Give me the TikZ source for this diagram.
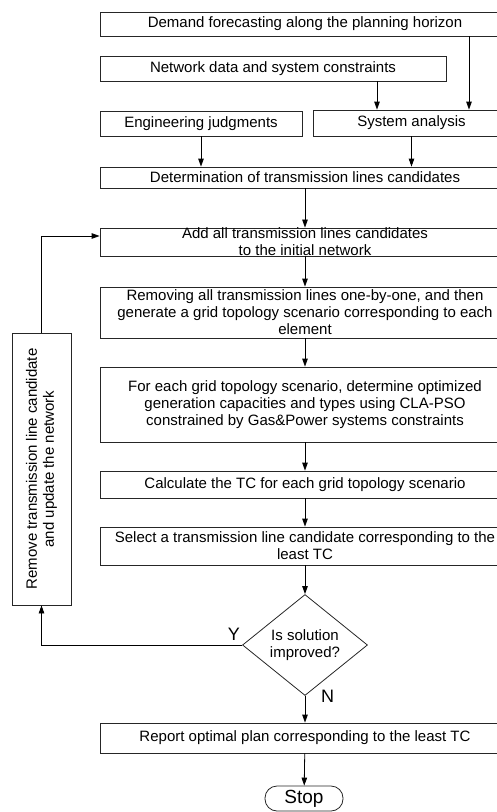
\documentclass[tikz,border=0pt]{standalone}
\usepackage{fontspec}
\setmainfont{Liberation Sans}
\usetikzlibrary{arrows.meta,shapes.geometric,positioning}
\tikzset{
  flowbox/.style  = {draw=black!85,line width=0.8pt,inner sep=0pt,align=center,
                     font=\fontsize{15}{17}\selectfont},
  decision/.style = {flowbox,diamond,minimum width=125,minimum height=96},
  terminal/.style = {flowbox,rounded corners=12pt,minimum width=78,minimum height=25,
                     font=\fontsize{19}{21}\selectfont},
  flowarr/.style  = {-{Triangle[length=8pt,width=5.5pt]},line width=0.8pt},
  ynlabel/.style  = {inner sep=0pt,font=\fontsize{18}{20}\selectfont}
}

\begin{document}
\begin{tikzpicture}[x=1pt,y=-1pt]
  \useasboundingbox (0,0) rectangle (496,812);
  % input blocks
  \node[flowbox,minimum width=410,minimum height=24] (demand) at (305,24)
    {Demand forecasting along the planning horizon};
  \node[flowbox,minimum width=346,minimum height=25] (netdata) at (273,68.5)
    {Network data and system constraints};
  \node[flowbox,minimum width=202,minimum height=25] (engj) at (201,123.5)
    {Engineering judgments};
  \node[flowbox,minimum width=197,minimum height=26] (sysan) at (411.5,123)
    {System analysis};
  \node[flowbox,minimum width=410,minimum height=21] (determ) at (305,177.5)
    {Determination of transmission lines candidates};
  % main loop
  \node[flowbox,minimum width=410,minimum height=28] (addall) at (305,242)
    {Add all transmission lines candidates\\to the initial network};
  \node[flowbox,minimum width=410,minimum height=51] (removing) at (305,312.5)
    {Removing all transmission lines one-by-one, and then\\generate a grid topology scenario corresponding to each\\element};
  \node[flowbox,minimum width=410,minimum height=75] (foreach) at (305,404.5)
    {For each grid topology scenario, determine optimized\\generation capacities and types using CLA-PSO\\constrained by Gas\&Power systems constraints};
  \node[flowbox,minimum width=410,minimum height=27] (calc) at (305,484.5)
    {Calculate the TC for each grid topology scenario};
  \node[flowbox,minimum width=410,minimum height=38] (select) at (305,546)
    {Select a transmission line candidate corresponding to the\\least TC};
  \node[decision] (improved) at (305,645) {Is solution\\improved?};
  \node[flowbox,minimum width=410,minimum height=30] (report) at (305,738)
    {Report optimal plan corresponding to the least TC};
  \node[terminal] (stop) at (304,798.5) {Stop};
  \node[flowbox,minimum width=272,minimum height=59,rotate=90] (update) at (41.5,469)
    {Remove transmission line candidate\\and update the network};
  % connectors
  \draw[flowarr] ([xshift=164pt]demand.south) -- ([xshift=164pt]demand.south |- sysan.north);
  \draw[flowarr] ([xshift=104pt]netdata.south) -- ([xshift=104pt]netdata.south |- sysan.north);
  \draw[flowarr] (engj.south) -- (engj.south |- determ.north);
  \draw[flowarr] (sysan.south) -- (sysan.south |- determ.north);
  \draw[flowarr] (determ) -- (addall);
  \draw[flowarr] (addall) -- (removing);
  \draw[flowarr] (removing) -- (foreach);
  \draw[flowarr] (foreach) -- (calc);
  \draw[flowarr] (calc) -- (select);
  \draw[flowarr] (select) -- (improved);
  \draw[flowarr] (improved) -- (report);
  \draw[flowarr] (report) -- (stop);
  \draw[flowarr] (improved.west) -| (update.west);
  \draw[flowarr] (update.east) |- ([yshift=6pt]addall.west);
  \node[ynlabel,above left=4pt and 2pt of improved.west] (ylab) {Y};
  \node[ynlabel,right=16pt of improved.south] (nlab) {N};
\end{tikzpicture}
\end{document}
